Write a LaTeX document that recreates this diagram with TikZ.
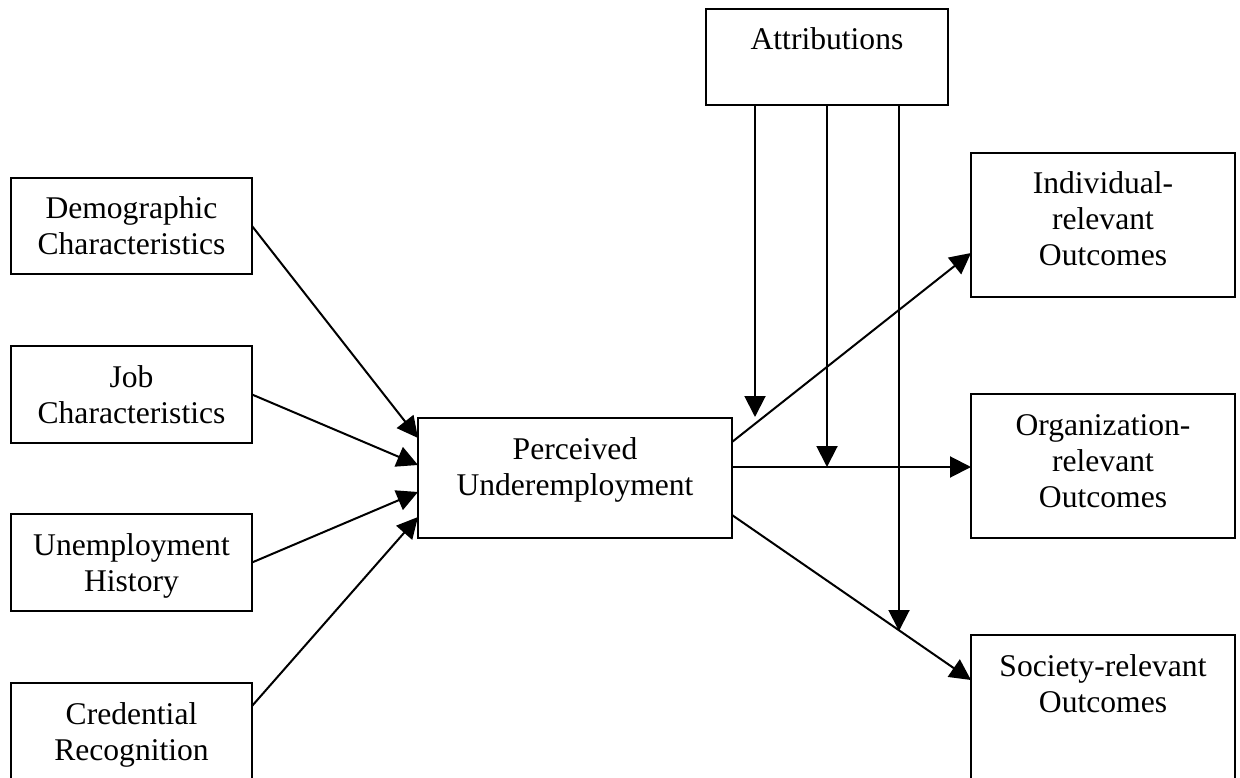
\documentclass[tikz,border=0pt]{standalone}
\usepackage{fontspec}
\setmainfont{Liberation Serif}
\usetikzlibrary{arrows.meta,calc}
% box content: fixed-size minipage, text set from the top
\newcommand\boxlabel[3]{\begin{minipage}[c][#2][t]{#1}\centering\rule{0pt}{41pt}#3\end{minipage}}
\begin{document}
\begin{tikzpicture}[x=1pt,y=-1pt,
  box/.style={draw, line width=2pt, inner sep=0pt, outer sep=0pt, anchor=north west,
              font=\fontsize{31.6}{36}\selectfont},
  link/.style={-{Triangle[length=21pt,width=21pt]}, line width=2pt}]
\useasboundingbox (0,0) rectangle (1240,778);
\clip (0,0) rectangle (1240,778);

% antecedents
\node[box] (dem)  at (11,178) {\boxlabel{241pt}{96pt}{Demographic\\Characteristics}};
\node[box] (job)  at (11,346) {\boxlabel{241pt}{97pt}{Job\\Characteristics}};
\node[box] (une)  at (11,514) {\boxlabel{241pt}{97pt}{Unemployment\\History}};
\node[box] (cred) at (11,683) {\boxlabel{241pt}{100pt}{Credential\\Recognition}};

% central construct and moderator
\node[box] (pu)   at (418,418) {\boxlabel{314pt}{120pt}{Perceived\\Underemployment}};
\node[box] (attr) at (706,9)   {\boxlabel{242pt}{96pt}{Attributions}};

% outcomes
\node[box] (ind) at (971,153) {\boxlabel{264pt}{144pt}{Individual-\\relevant\\Outcomes}};
\node[box] (org) at (971,394) {\boxlabel{264pt}{144pt}{Organization-\\relevant\\Outcomes}};
\node[box] (soc) at (971,635) {\boxlabel{264pt}{148pt}{Society-relevant\\Outcomes}};

% antecedents -> perceived underemployment
\draw[link] (dem.east) -- ($(pu.north west)+(0,20)$);
\draw[link] (job.east) -- ($(pu.north west)+(0,47)$);
\draw[link] (une.east) -- ($(pu.north west)+(0,74)$);
\draw[link] ($(cred.north east)+(0,23)$) -- ($(pu.north west)+(0,99)$);

% perceived underemployment -> outcomes
\draw[link] ($(pu.north east)+(0,24)$) -- ($(ind.north west)+(0,100)$);
\draw[link] ($(pu.north east)+(0,49)$) -- ($(org.north west)+(0,73)$);
\draw[link] ($(pu.north east)+(0,97)$) -- ($(soc.north west)+(0,45)$);

% moderating paths from attributions
\coordinate (m1) at (755,417);
\coordinate (m2) at (827,467);
\coordinate (m3) at (899,631);
\draw[link] (attr.south -| m1) -- (m1);
\draw[link] (attr.south -| m2) -- (m2);
\draw[link] (attr.south -| m3) -- (m3);
\end{tikzpicture}
\end{document}
